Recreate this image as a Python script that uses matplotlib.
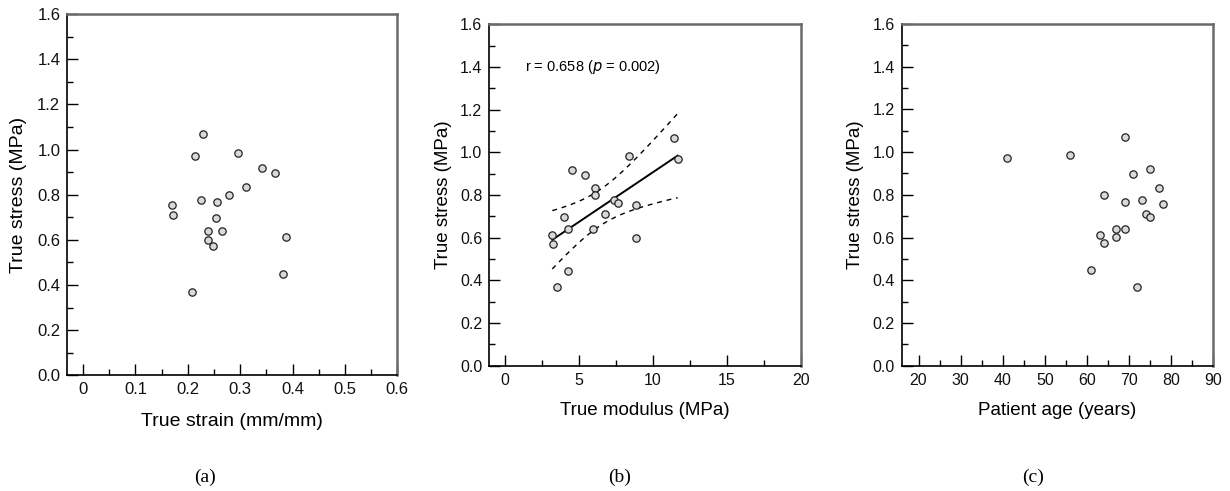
import numpy as np
import matplotlib
matplotlib.use("Agg")
import matplotlib.pyplot as plt

plt.rcParams['font.family'] = ['Liberation Sans', 'DejaVu Sans']

# ---- data ----
stress = [1.070, 0.971, 0.985, 0.920, 0.897, 0.832, 0.800, 0.776, 0.766, 0.756,
          0.711, 0.697, 0.641, 0.641, 0.601, 0.571, 0.611, 0.447, 0.368]
strain = [0.229, 0.213, 0.296, 0.341, 0.366, 0.311, 0.278, 0.226, 0.255, 0.169,
          0.171, 0.254, 0.239, 0.265, 0.238, 0.248, 0.387, 0.381, 0.208]

stress_b = [1.069, 0.969, 0.983, 0.919, 0.895, 0.831, 0.798, 0.775, 0.763, 0.753,
            0.709, 0.695, 0.639, 0.639, 0.611, 0.570, 0.600, 0.445, 0.367]
modulus = [11.45, 11.68, 8.39, 4.57, 5.42, 6.12, 6.07, 7.36, 7.67, 8.84,
           6.75, 3.98, 4.27, 5.94, 3.22, 3.28, 8.86, 4.25, 3.51]

stress_c = [0.973, 0.985, 1.071, 0.898, 0.921, 0.834, 0.799, 0.766, 0.777, 0.757,
            0.712, 0.696, 0.642, 0.642, 0.612, 0.603, 0.573, 0.448, 0.370]
age = [41, 56, 69, 71, 75, 77, 64, 69, 73, 78, 74, 75, 67, 69, 63, 67, 64, 61, 72]

corr_text = "r = 0.658 ($\\it{p}$ = 0.002)"
panel_labels = ["(a)", "(b)", "(c)"]
BAND_MULT = 2.6  # confidence band multiplier (matches drawn band width)

fig = plt.figure(figsize=(12.3, 4.91), dpi=100)

def style_axes(ax, tick_fs):
    for s in ['left', 'bottom']:
        ax.spines[s].set_color('black')
        ax.spines[s].set_linewidth(1.2)
    for s in ['top', 'right']:
        ax.spines[s].set_color('#6a6a6a')
        ax.spines[s].set_linewidth(1.8)
    ax.tick_params(which='both', direction='in', top=False, right=False,
                   labelsize=tick_fs, color='black', pad=5, labelcolor='#111111')
    ax.tick_params(which='major', length=8, width=1.0)
    ax.tick_params(which='minor', length=4.5, width=1.0)

def scatter(ax, x, y):
    ax.scatter(x, y, s=28, facecolor='#d9d9d9', edgecolor='#222222',
               linewidths=0.9, zorder=3)

yt = np.arange(0, 1.61, 0.2)
ytl = [f"{v:.1f}" for v in yt]
ytm = np.arange(0.1, 1.6, 0.2)

# panel a
axa = fig.add_axes([0.0547, 0.2356, 0.2683, 0.7358])
scatter(axa, strain, stress)
axa.set_xlim(-0.03, 0.6)
axa.set_ylim(0, 1.6)
axa.set_xticks(np.arange(0, 0.61, 0.1))
axa.set_xticklabels(['0', '0.1', '0.2', '0.3', '0.4', '0.5', '0.6'])
axa.set_xticks(np.arange(0.05, 0.6, 0.1), minor=True)
axa.set_yticks(yt)
axa.set_yticklabels(ytl)
axa.set_yticks(ytm, minor=True)
style_axes(axa, 12)
axa.set_xlabel("True strain (mm/mm)", fontsize=14, labelpad=11)
axa.set_ylabel("True stress (MPa)", fontsize=14, labelpad=7)

# panel b
axb = fig.add_axes([0.3978, 0.2552, 0.2534, 0.6953])
scatter(axb, modulus, stress_b)
xm = np.array(modulus)
ym = np.array(stress_b)
slope, intercept = np.polyfit(xm, ym, 1)
xs = np.linspace(xm.min(), xm.max(), 100)
fit = slope * xs + intercept
n = len(xm)
resid = ym - (slope * xm + intercept)
se = np.sqrt(np.sum(resid ** 2) / (n - 2))
sxx = np.sum((xm - xm.mean()) ** 2)
band = BAND_MULT * se * np.sqrt(1.0 / n + (xs - xm.mean()) ** 2 / sxx)
axb.plot(xs, fit, color='black', lw=1.4, zorder=2)
axb.plot(xs, fit + band, color='black', lw=1.0, ls=(0, (3.5, 3.5)), zorder=2)
axb.plot(xs, fit - band, color='black', lw=1.0, ls=(0, (3.5, 3.5)), zorder=2)
axb.text(1.35, 1.40, corr_text, fontsize=10.5, ha='left', va='center')
axb.set_xlim(-1.03, 20)
axb.set_ylim(0, 1.6)
axb.set_xticks([0, 5, 10, 15, 20])
axb.set_xticks([2.5, 7.5, 12.5, 17.5], minor=True)
axb.set_yticks(yt)
axb.set_yticklabels(ytl)
axb.set_yticks(ytm, minor=True)
style_axes(axb, 11.5)
axb.set_xlabel("True modulus (MPa)", fontsize=13.5, labelpad=10)
axb.set_ylabel("True stress (MPa)", fontsize=13.5, labelpad=6)

# panel c
axc = fig.add_axes([0.7331, 0.2552, 0.2533, 0.696])
scatter(axc, age, stress_c)
axc.set_xlim(16, 90)
axc.set_ylim(0, 1.6)
axc.set_xticks(np.arange(20, 91, 10))
axc.set_xticks(np.arange(25, 90, 5), minor=True)
axc.set_yticks(yt)
axc.set_yticklabels(ytl)
axc.set_yticks(ytm, minor=True)
style_axes(axc, 11.5)
axc.set_xlabel("Patient age (years)", fontsize=13.5, labelpad=10)
axc.set_ylabel("True stress (MPa)", fontsize=13.5, labelpad=6)

for lab, xp in zip(panel_labels, [205, 620, 1033]):
    fig.text(xp / 1230, 1 - 477 / 491, lab, fontsize=14,
             family=['Liberation Serif', 'DejaVu Serif'], ha='center', va='center')

fig.savefig("out.png", dpi=100)
